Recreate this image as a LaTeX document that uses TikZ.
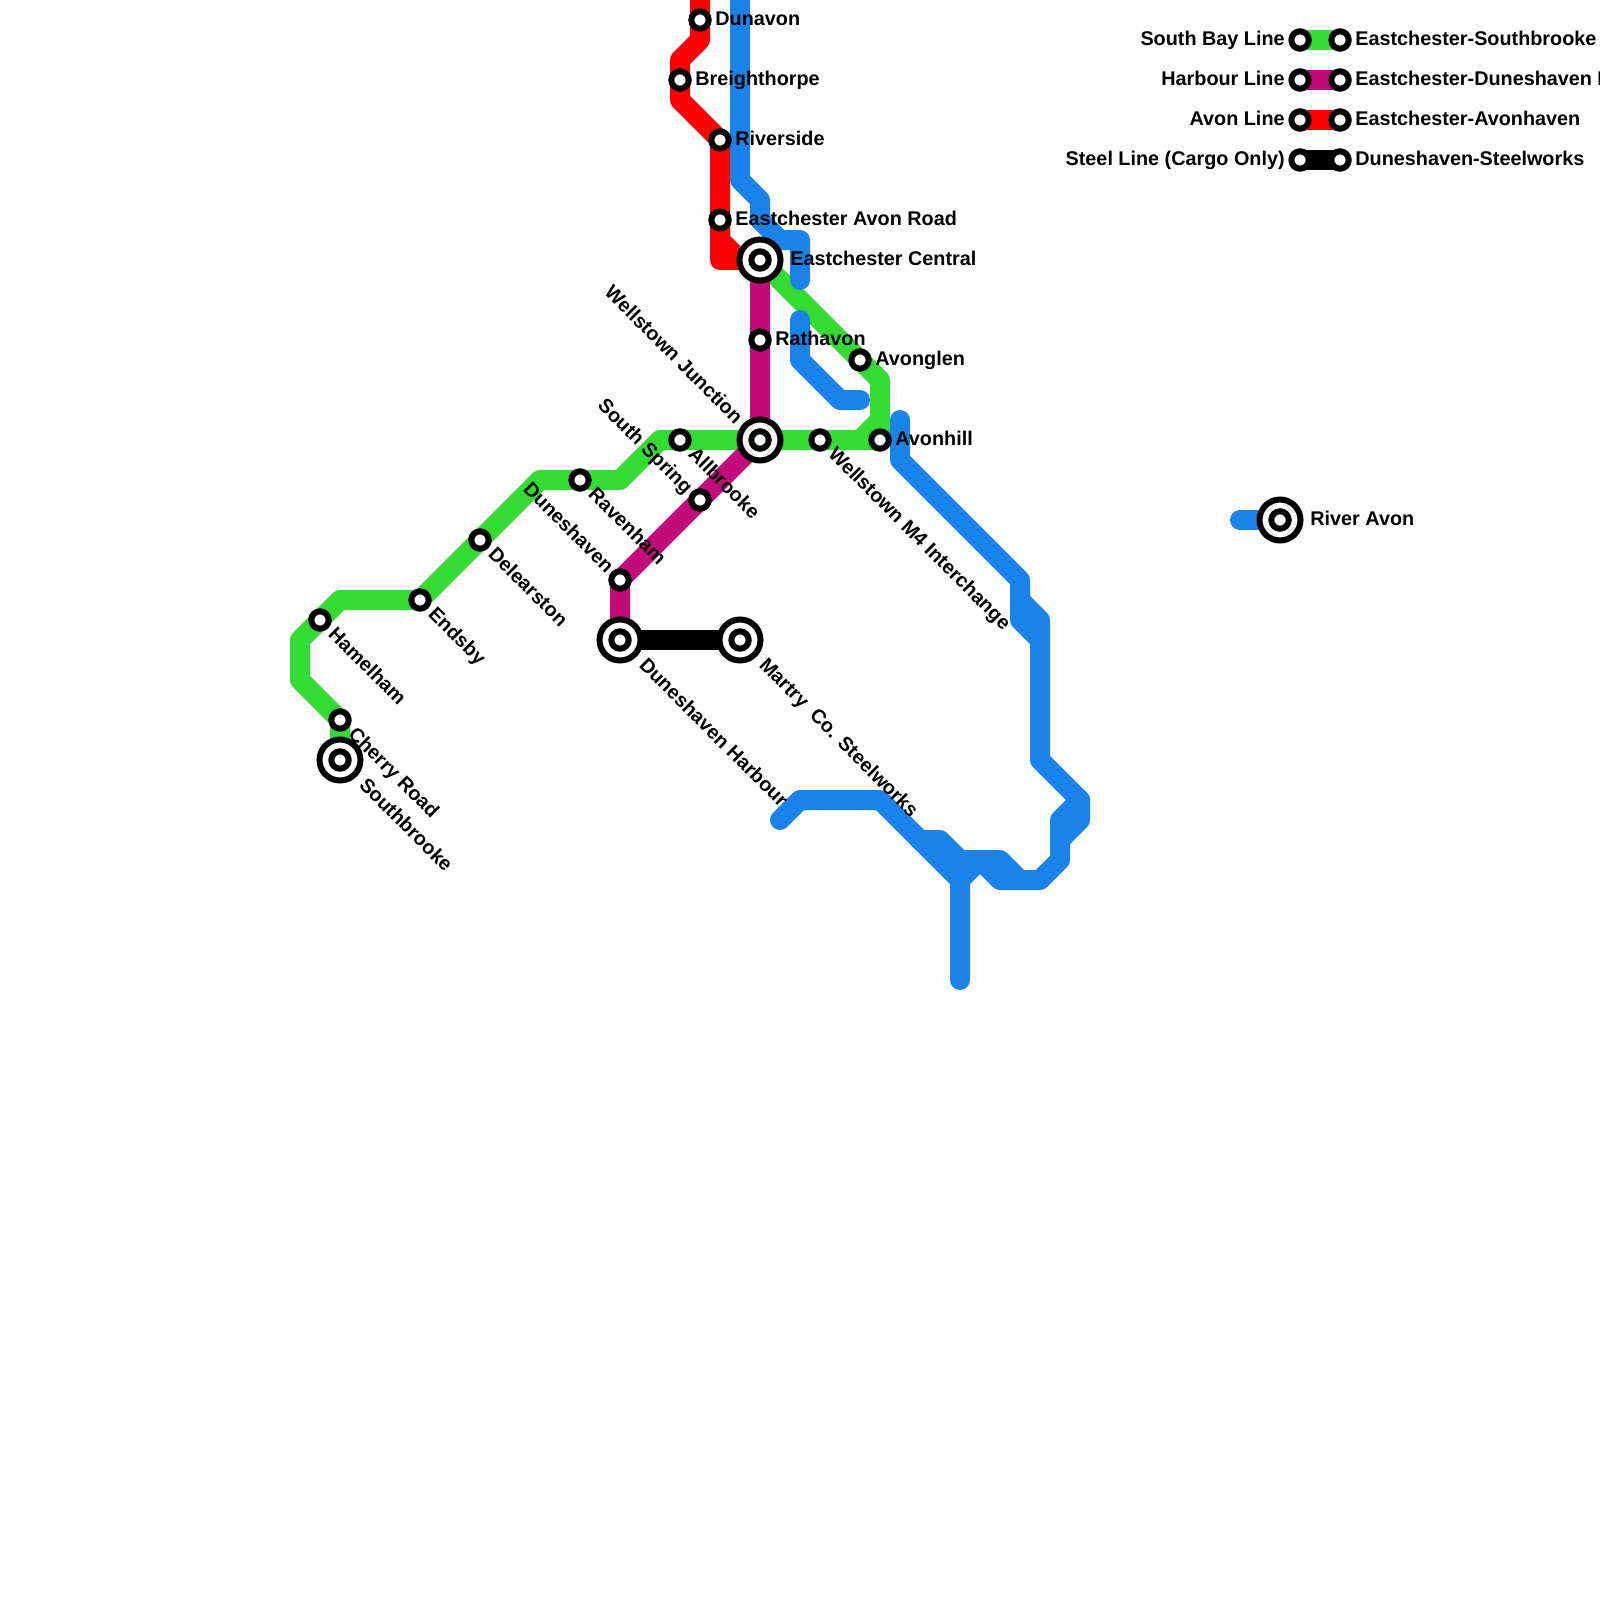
\documentclass[tikz,border=0pt]{standalone}
\usepackage{fontspec}
\setmainfont{Liberation Sans}
\usetikzlibrary{backgrounds}
\definecolor{lgreen}{HTML}{33DB33}
\definecolor{lmag}{HTML}{C20A7A}
\definecolor{lblue}{HTML}{1A82E8}
\tikzset{
  stop/.style={circle,draw=black,fill=white,line width=3pt,minimum size=8.7pt,inner sep=0pt},
  hubring/.style={circle,draw=black,fill=white,line width=3pt,minimum size=20.5pt,inner sep=0pt},
  lbl/.style={font=\fontsize{9.9}{12}\selectfont\bfseries,text=black,inner sep=0pt,text height=7.1pt,text depth=0pt},
  lineg/.style={line width=10pt,line join=round,line cap=butt},
  rl/.style={lbl,anchor=west},
  sel/.style={lbl,anchor=west,rotate=-45},
  nwl/.style={lbl,anchor=east,rotate=-45},
  ll/.style={lbl,anchor=east},
}
\begin{document}
\begin{tikzpicture}[x=0.5pt,y=-0.5pt]
\useasboundingbox (0,0) rectangle (1600,1600);
\clip (0,0) rectangle (1600,1600);
% stations
\node[stop] (dun) at (700,20) {};
\node[stop] (bre) at (680,80) {};
\node[stop] (riv) at (720,140) {};
\node[stop] (ear) at (720,220) {};
\node[hubring] (cen) at (760,260) {}; \node[stop] (cenin) at (760,260) {};
\node[stop] (rat) at (760,340) {};
\node[stop] (avg) at (860,360) {};
\node[stop] (avh) at (880,440) {};
\node[stop] (wm4) at (820,440) {};
\node[hubring] (wel) at (760,440) {}; \node[stop] (welin) at (760,440) {};
\node[stop] (all) at (680,440) {};
\node[stop] (sou) at (700,500) {};
\node[stop] (rav) at (580,480) {};
\node[stop] (dns) at (620,580) {};
\node[hubring] (har) at (620,640) {}; \node[stop] (harin) at (620,640) {};
\node[hubring] (mar) at (740,640) {}; \node[stop] (marin) at (740,640) {};
\node[stop] (del) at (480,540) {};
\node[stop] (end) at (420,600) {};
\node[stop] (ham) at (320,620) {};
\node[stop] (che) at (340,720) {};
\node[hubring] (sbk) at (340,760) {}; \node[stop] (sbkin) at (340,760) {};
\node[hubring] (ria) at (1280,520) {}; \node[stop] (riain) at (1280,520) {};
\foreach \n/\y in {a/40,b/80,c/120,d/160}{
  \node[stop] (k\n l) at (1300,\y) {};
  \node[stop] (k\n r) at (1340,\y) {};
}
% free line ends and bends
\coordinate (rtop) at (700,-5);
\coordinate (btop) at (740,-5);
\coordinate (rvs) at (1240,520);
% lines
\begin{scope}[on background layer]
\clip (0,0) rectangle (1600,1600);
\draw[lineg,red] (rtop) -- (dun.center) -- (700,40) -- (680,60) -- (bre.center) -- (680,100) -- (riv.center) -- (ear.center) -- (720,260) -- (cen.center);
\draw[lineg,red] (ear.center) -- (720,240) -- (740,260);
\draw[lineg,lgreen] (cen.center) -- (avg.center) -- (880,380) -- (avh.center) -- (wm4.center) -- (wel.center) -- (all.center) -- (660,440) -- (620,480) -- (rav.center) -- (540,480) -- (del.center) -- (end.center) -- (340,600) -- (ham.center) -- (300,640) -- (300,680) -- (che.center) -- (sbk.center);
\draw[lineg,lgreen] (880,420) -- (860,440);
\draw[lineg,lmag] (cen.center) -- (rat.center) -- (wel.center) -- (sou.center) -- (dns.center) -- (har.center);
\draw[lineg,black] (har.center) -- (mar.center);
\begin{scope}[lineg,lblue,line cap=round]
\draw (btop) -- (740,180) -- (760,200) -- (760,220) -- (780,240) -- (800,240) -- (800,280);
\draw (800,320) -- (800,360) -- (840,400) -- (860,400);
\draw (900,420) -- (900,460) -- (1020,580) -- (1020,620) -- (1040,640) -- (1040,760) -- (1080,800) -- (1080,820) -- (1060,840);
\draw (1020,600) -- (1040,620) -- (1040,640);
\draw (1080,800) -- (1060,820) -- (1060,860) -- (1040,880) -- (1000,880) -- (980,860) -- (960,880);
\draw (780,820) -- (800,800) -- (880,800) -- (960,880) -- (960,980);
\draw (920,840) -- (940,840) -- (960,860) -- (1000,860) -- (1020,880);
\draw (rvs) -- (ria.center);
\end{scope}
\draw[lineg,lgreen] (kal.center) -- (kar.center);
\draw[lineg,lmag] (kbl.center) -- (kbr.center);
\draw[lineg,red] (kcl.center) -- (kcr.center);
\draw[lineg,black,line cap=round] (kdl.center) -- (kdr.center);
\end{scope}
% labels
\node[rl] (tdun) at (715,18) {Dunavon};
\node[rl] (tbre) at (695,78.5) {Breighthorpe};
\node[rl] (triv) at (735,138.5) {Riverside};
\node[rl] (tear) at (735,218.5) {Eastchester Avon Road};
\node[rl] (tcen) at (790,258.5) {Eastchester Central};
\node[rl] (trat) at (775,338.5) {Rathavon};
\node[rl] (tavg) at (875,358.5) {Avonglen};
\node[rl] (tavh) at (895,438.5) {Avonhill};
\node[rl] (tria) at (1310,518.5) {River Avon};
\node[sel] (tall) at (692,450) {Allbrooke};
\node[sel] (twm4) at (832,450) {Wellstown M4 Interchange};
\node[sel] (trav) at (592,490) {Ravenham};
\node[sel] (tdel) at (492,550) {Delearston};
\node[sel] (tend) at (432,610) {Endsby};
\node[sel] (tham) at (332,630) {Hamelham};
\node[sel] (tche) at (352,730) {Cherry Road};
\node[sel] (tsbk) at (363,781) {Southbrooke};
\node[sel] (thar) at (643,661) {Duneshaven Harbour};
\node[sel] (tmar) at (763,661) {Martry\ \ Co. Steelworks};
\node[nwl] (twel) at (740,420) {Wellstown Junction};
\node[nwl] (tsou) at (690,490) {South Spring};
\node[nwl] (tdns) at (611,569) {Duneshaven};
\node[ll] (kat) at (1285,38.5) {South Bay Line};
\node[ll] (kbt) at (1285,78.5) {Harbour Line};
\node[ll] (kct) at (1285,118.5) {Avon Line};
\node[ll] (kdt) at (1285,158.5) {Steel Line (Cargo Only)};
\node[rl] (kau) at (1355,38.5) {Eastchester-Southbrooke};
\node[rl] (kbu) at (1355,78.5) {Eastchester-Duneshaven Harbour};
\node[rl] (kcu) at (1355,118.5) {Eastchester-Avonhaven};
\node[rl] (kdu) at (1355,158.5) {Duneshaven-Steelworks};
\end{tikzpicture}
\end{document}
